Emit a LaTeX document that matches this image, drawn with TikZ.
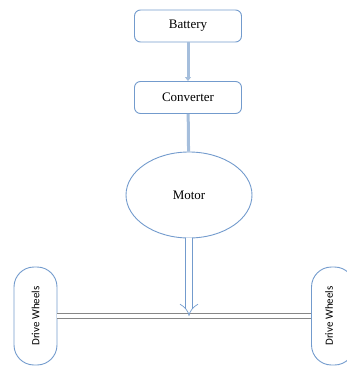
\documentclass[tikz,border=0pt]{standalone}
\usepackage{fontspec}
\setmainfont{Liberation Serif}
\newfontfamily\wheelfont{Carlito}
\usetikzlibrary{arrows.meta,shapes.geometric}
\definecolor{edgeblue}{RGB}{115,155,205}
\definecolor{feedblue}{RGB}{165,190,220}
\definecolor{axlegray}{RGB}{135,135,135}

\begin{document}
\begin{tikzpicture}[
  x=1pt, y=-1pt,
  font=\fontsize{13}{15}\selectfont,
  block/.style={draw=edgeblue, line width=0.9pt, rounded corners=6pt,
    minimum width=107pt, minimum height=32pt, inner sep=0pt},
  drum/.style={draw=edgeblue, ellipse, line width=0.9pt,
    minimum width=126pt, minimum height=86pt, inner sep=0pt},
  wheel/.style={draw=edgeblue, line width=0.9pt, rounded corners=20pt,
    minimum width=43pt, minimum height=98pt, inner sep=0pt},
  wheeltext/.style={font=\wheelfont\fontsize{11}{13}\selectfont, rotate=90},
  feed/.style={draw=feedblue, line width=3pt, -{Triangle[length=4pt,width=6pt]}},
  drive/.style={draw=edgeblue, double=white, double distance=6pt, line width=0.7pt,
    -{Implies[length=5pt,width=12pt]}},
  axle/.style={draw=axlegray, double=white, double distance=4pt, line width=0.8pt}
]
\useasboundingbox (0,0) rectangle (347,367);
\clip (0,0) rectangle (347,367);

\node[block] (battery) at (188,26) {Battery};
\node[block] (converter) at (188,97.5) {Converter};
\node[drum] (motor) at (189,195) {Motor};

\node[wheel] (wheelL) at (35.5,316) {};
\node[wheeltext] (textL) at (wheelL) {Drive Wheels};
\node[wheel] (wheelR) at (333,316) {};
\node[wheeltext] (textR) at ([xshift=-4pt]wheelR.center) {Drive Wheels};

\draw[feed] (battery) -- (converter);
\draw[feed, -] (converter) -- (motor);

\draw[axle] (wheelL.east) -- (wheelR.west);
\coordinate (hub) at (motor.south |- wheelL.east);
\draw[drive] (motor.south) -- (hub);
\end{tikzpicture}
\end{document}
